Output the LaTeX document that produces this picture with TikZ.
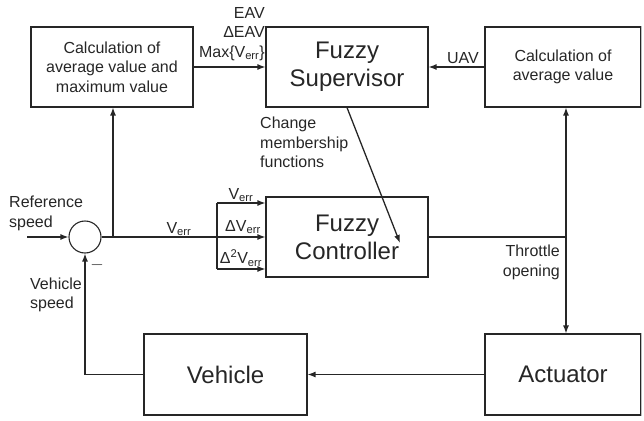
\documentclass[tikz,border=0pt]{standalone}
\usepackage{fontspec}
\setmainfont{Liberation Sans}
\usetikzlibrary{arrows.meta}
\colorlet{lineCol}{black!85}
\colorlet{textCol}{black!85}
\colorlet{edgeCol}{black!25}
\tikzset{
blockstyle/.style={rectangle, draw=lineCol, line width=1.1pt, inner sep=0pt, align=center,
  text=textCol, font=\fontsize{16}{19.5}\selectfont},
bigblock/.style={blockstyle, font=\fontsize{24}{28}\selectfont},
sumstyle/.style={circle, draw=lineCol, line width=1.1pt, minimum size=32pt, inner sep=0pt},
labelstyle/.style={inner sep=0pt, text=textCol, font=\fontsize{16}{19.5}\selectfont},
arr/.style={draw=lineCol, line width=1.3pt, -{Latex[length=8pt,width=6pt]}},
wire/.style={draw=lineCol, line width=1.3pt}
}
\newcommand{\err}{V\textsubscript{err}}
\begin{document}
\begin{tikzpicture}[x=1pt,y=-1pt]
\useasboundingbox (0,0) rectangle (644,420);

% blocks
\node [blockstyle, minimum width=162pt, minimum height=80pt] (calcmax) at (112,67) {Calculation of\\average value and\\maximum value};
\node [bigblock, minimum width=162pt, minimum height=80pt] (sup) at (347,67) {Fuzzy\\Supervisor};
\node [blockstyle, minimum width=156pt, minimum height=80pt] (calcavg) at (563,67) {Calculation of\\average value};
\node [bigblock, minimum width=162pt, minimum height=80pt] (ctrl) at (347,237) {Fuzzy\\Controller};
\node [bigblock, minimum width=163pt, minimum height=81pt] (veh) at (225.5,374.5) {Vehicle};
\node [bigblock, minimum width=156pt, minimum height=81pt] (act) at (563,374.5) {Actuator};
\node [sumstyle] (sum) at (85,237) {};

% faint right edges of the two right-hand blocks
\draw [edgeCol, line width=1.3pt] (calcavg.north east) -- (calcavg.south east);
\draw [edgeCol, line width=1.3pt] (act.north east) -- (act.south east);

% branch points
\coordinate (refin) at (27,237);
\coordinate (brA) at (113,237);
\coordinate (brB) at (217,237);
\coordinate (brBtop) at (217,203);
\coordinate (brBbot) at (217,269);
\coordinate (tap) at (566,237);
\coordinate (mfend) at (400,243);

% signal paths
\draw [arr] (refin) -- (sum.west);
\draw [wire] (sum.east) -- (brB);
\draw [arr] (brA) -- (brA |- calcmax.south);
\draw [wire] (brBtop) -- (brBbot);
\draw [arr] (brBtop) -- (brBtop -| ctrl.west);
\draw [arr] (brB) -- (ctrl.west);
\draw [arr] (brBbot) -- (brBbot -| ctrl.west);
\draw [arr] (calcmax.east) -- (sup.west);
\draw [arr] (calcavg.west) -- (sup.east);
\draw [arr] (sup.south) -- (mfend);
\draw [wire] (ctrl.east) -- (tap);
\draw [arr] (tap) -- (tap |- calcavg.south);
\draw [arr] (tap) -- (tap |- act.north);
\draw [arr] (act.west) -- (veh.east);
\draw [arr] (veh.west) -| (sum.south);

% labels
\node [labelstyle, align=left, anchor=west] (lblref) at (9,213.5) {Reference\\speed};
\node [labelstyle, align=left, anchor=west] (lblvs) at (30,295) {Vehicle\\speed};
\node [labelstyle] (lblminus) at (97,265) {$-$};
\node [labelstyle] (lblerr) at (179,229) {\err};
\node [labelstyle] (lblin1) at (241,195) {\err};
\node [labelstyle] (lblin2) at (243,227) {Δ\err};
\node [labelstyle] (lblin3) at (241,258) {Δ\textsuperscript{2}\err};
\node [labelstyle, align=right, anchor=east] (lblsup) at (265,34) {EAV\\ΔEAV\\Max\{\err\}};
\node [labelstyle] (lbluav) at (463,58) {UAV};
\node [labelstyle, align=left, anchor=west] (lblmf) at (260,142.5) {Change\\membership\\functions};
\node [labelstyle, align=right, anchor=east] (lblthr) at (560,262.5) {Throttle\\opening};
\end{tikzpicture}
\end{document}
